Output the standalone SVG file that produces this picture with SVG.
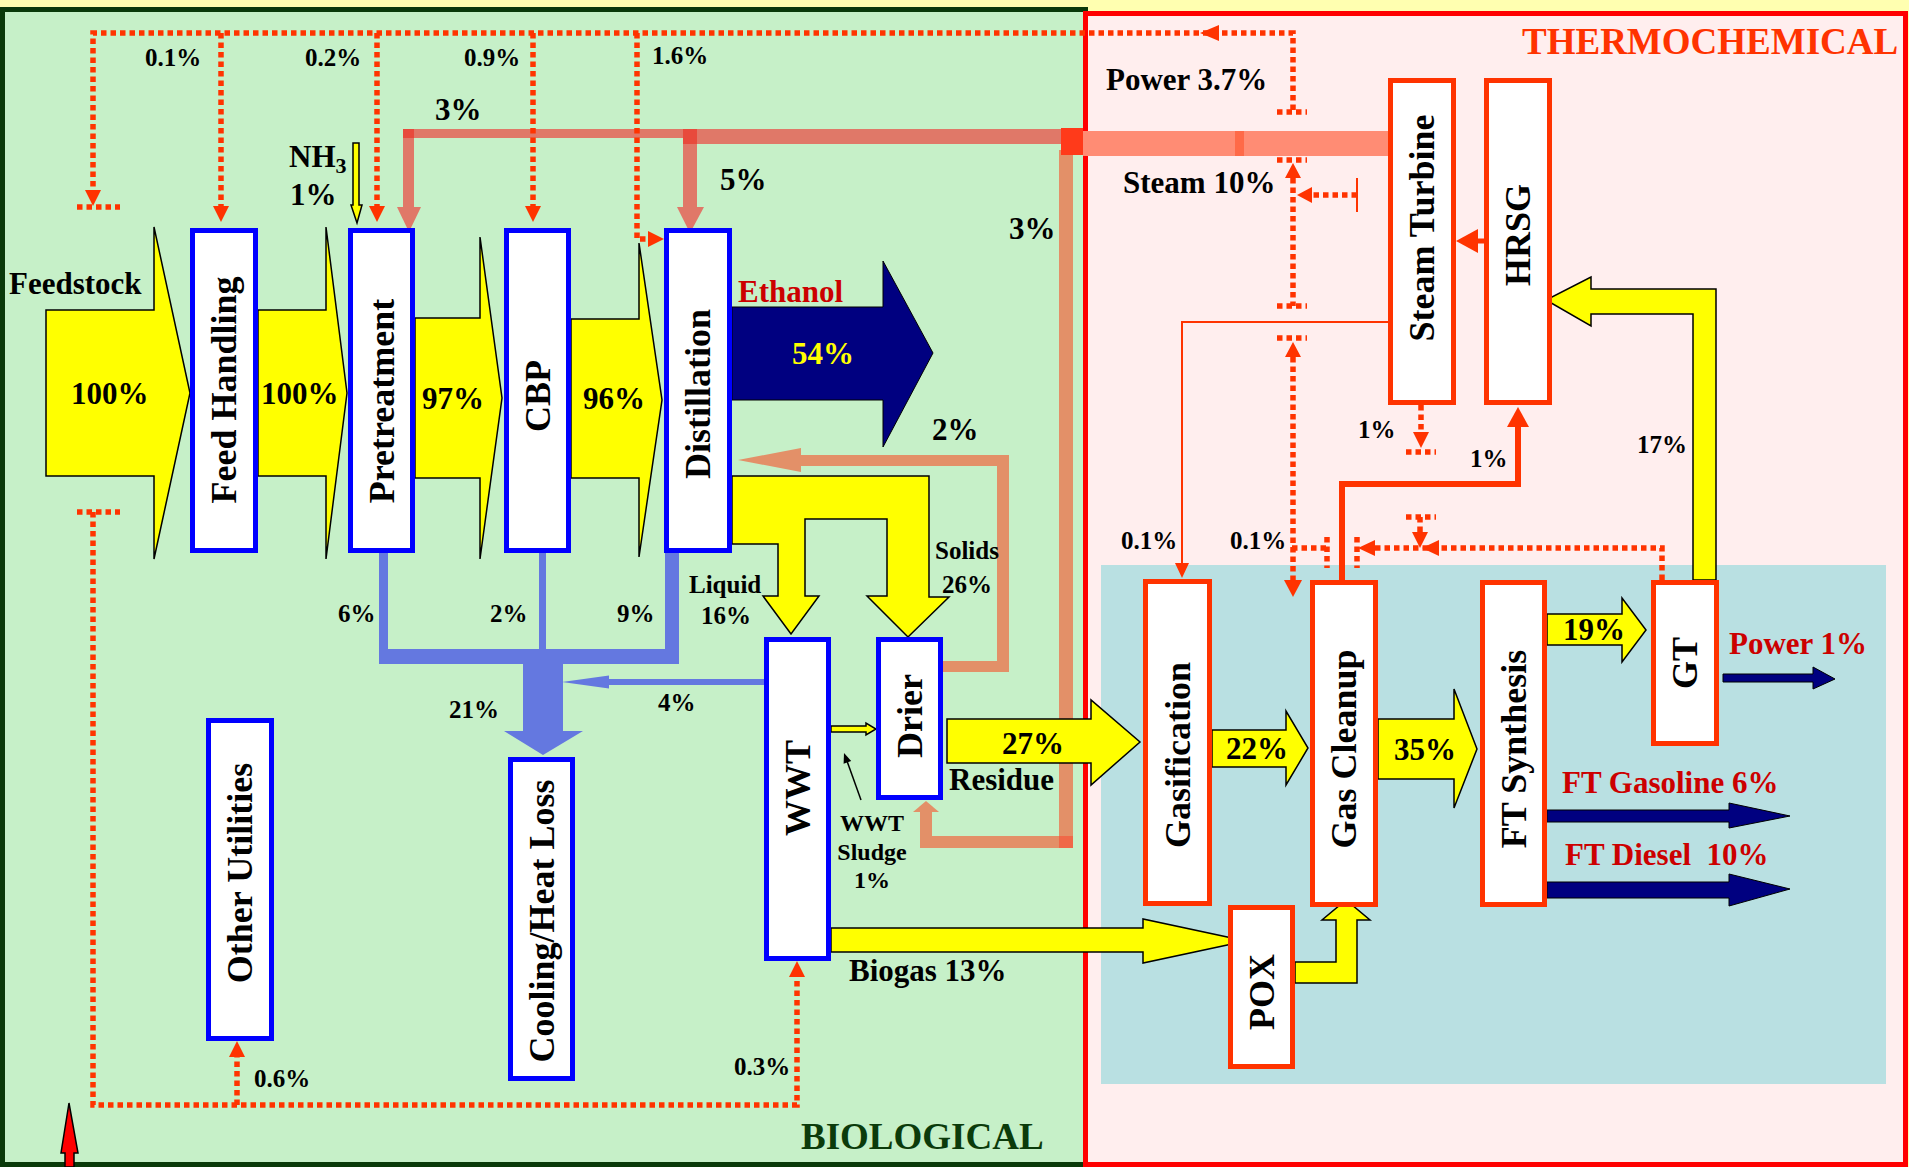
<svg xmlns="http://www.w3.org/2000/svg" width="1909" height="1167" viewBox="0 0 1909 1167">
<style>
text{font-family:"Liberation Serif","Times New Roman",serif;font-weight:bold;fill:#000}
.big{font-size:31px}
.sm{font-size:25px}
.nd{font-size:36px;text-anchor:middle}
.red{fill:#CC0000}
.bb{fill:#fff;stroke:#0000FF;stroke-width:5}
.bt{fill:#fff;stroke:#FF3300;stroke-width:5}
.ya{fill:#FFFF00;stroke:#000;stroke-width:1.5;stroke-linejoin:miter}
.na{fill:#000080;stroke:#000;stroke-width:1}
.dot{fill:none;stroke:#FF3300;stroke-width:5.5;stroke-dasharray:5.5 4}
.dh{fill:#FF3300}
.sal{fill:#E07868}
.org{fill:#E39068}
.blu{fill:#6478E0}
.sol{fill:none;stroke:#FF3300}
</style>
<g id="background">
<rect x="0" y="0" width="1909" height="1167" fill="#FFFFB0"/>
<rect x="2.5" y="9.5" width="1083" height="1155" fill="#C6F0C8" stroke="#0A3A0A" stroke-width="5"/>
<rect x="1085.5" y="13.5" width="820" height="1151" fill="#FFEEEE" stroke="#FF0000" stroke-width="5"/>
<rect x="1101" y="565" width="785" height="519" fill="#B9E0E2"/>
<text x="1522" y="54" style="font-size:37px;fill:#FF3300">THERMOCHEMICAL</text>
<text x="801" y="1149" style="font-size:37px;fill:#0B3B0B">BIOLOGICAL</text>
</g>
<g id="connectors">
<rect class="sal" x="403" y="129" width="287" height="9"/>
<rect class="sal" x="403" y="129" width="11" height="78"/>
<polygon class="sal" points="397,207 421,207 409,232"/>
<rect x="403" y="129" width="11" height="9" fill="#E84A3C"/>
<rect class="sal" x="683" y="129" width="378" height="15"/>
<rect class="sal" x="683" y="129" width="14" height="78"/>
<polygon class="sal" points="677,207 704,207 690,233"/>
<rect x="683" y="129" width="14" height="15" fill="#E84A3C"/>
<rect x="1083" y="131" width="305" height="25" fill="#FF8C74"/>
<rect x="1235" y="131" width="9" height="25" fill="#FF6A48"/>
<rect class="org" x="1059" y="150" width="14" height="698"/>
<rect class="org" x="920" y="836" width="153" height="12"/>
<rect class="org" x="920" y="812" width="12" height="36"/>
<polygon class="org" points="913,812 939,812 926,801"/>
<rect x="1059" y="836" width="14" height="12" fill="#F06848"/>
<rect x="1061" y="128" width="22" height="27" fill="#FF3A1A"/>
<rect class="org" x="997" y="455" width="12" height="217"/>
<rect class="org" x="943" y="661" width="66" height="11"/>
<rect class="org" x="801" y="455" width="208" height="11"/>
<polygon class="org" points="801,448 738,460 801,472"/>
<rect class="blu" x="379" y="553" width="9" height="111"/>
<rect class="blu" x="539" y="553" width="7" height="111"/>
<rect class="blu" x="665" y="553" width="14" height="111"/>
<rect class="blu" x="379" y="649" width="300" height="15"/>
<polygon class="blu" points="523,659 563,659 563,731 583,731 543,755 504,731 523,731"/>
<rect class="blu" x="609" y="679" width="155" height="6"/>
<polygon class="blu" points="609,675.5 562,682 609,688.5"/>
<polygon class="ya" points="46,310 154,310 154,227 190,393 154,559 154,476 46,476"/>
<polygon class="ya" points="258,310 326,310 326,227 347,393 326,559 326,476 258,476"/>
<polygon class="ya" points="415,318 480,318 480,237 502,398 480,559 480,478 415,478"/>
<polygon class="ya" points="571,319 639,319 639,243 662,400 639,557 639,478 571,478"/>
<polygon class="ya" points="732,476 929,476 929,597 949,597 908,637 867,596 887,596 887,519 805,519 805,596 819,596 791,634 763,596 778,596 778,544 732,544"/>
<polygon class="ya" points="947,719 1091,719 1091,700 1140,742 1091,785 1091,763 947,763"/>
<polygon class="ya" points="831,928 1143,928 1143,919 1246,941 1143,963 1143,952 831,952"/>
<polygon class="ya" points="1212,730 1286,730 1286,711 1308,748 1286,785 1286,767 1212,767"/>
<polygon class="ya" points="1378,719 1454,719 1454,689 1477,749 1454,808 1454,779 1378,779"/>
<polygon class="ya" points="1547,614 1622,614 1622,598 1646,630 1622,662 1622,645 1547,645"/>
<polygon class="ya" points="1295,962 1336,962 1336,920 1322,920 1346,900 1370,920 1357,920 1357,983 1295,983"/>
<polygon class="ya" points="1716,580 1716,289 1591,289 1591,277 1546,300 1591,326 1591,314 1693,314 1693,580"/>
<polygon class="ya" points="831,726 866,726 866,723 876,729 866,735 866,732 831,732"/>
<polygon class="ya" points="353,143 359,143 359,205 362,205 357,223 351,205 353,205"/>
<polygon class="na" points="732,307 883,307 883,261 933,353 883,447 883,400 732,400"/>
<polygon class="na" points="1723,674 1813,674 1813,667 1835,679 1813,689 1813,682 1723,682"/>
<polygon class="na" points="1547,810 1729,810 1729,803 1790,816 1729,828 1729,822 1547,822"/>
<polygon class="na" points="1547,882 1729,882 1729,874 1790,889 1729,906 1729,898 1547,898"/>
<path class="sol" stroke-width="6" d="M1342,580 V484 H1518 V427"/>
<polygon class="dh" points="1507,427 1529,427 1518,407"/>
<path class="sol" stroke-width="5" d="M1484,241 H1476"/>
<polygon class="dh" points="1478,229 1478,253 1456,241"/>
<path class="sol" stroke-width="2" d="M1388,322 H1182 V563"/>
<polygon class="dh" points="1175,563 1189,563 1182,578"/>
<path class="sol" stroke-width="2" d="M1357,178 V212"/>
<path class="dot" d="M1293,110 V33 H93 V190"/>
<polygon class="dh" points="85,190 101,190 93,206"/>
<polygon class="dh" points="1219,25 1219,41 1200,33"/>
<path class="dot" d="M77,207 H120 M77,512 H120 M1277,112 H1307 M1277,160 H1307 M1277,306 H1307 M1277,338 H1307 M1406,452 H1436 M1406,517 H1436"/>
<path class="dot" d="M221,33 V206 M377,33 V206 M533,33 V206 M637,33 V239 H648"/>
<polygon class="dh" points="213,206 229,206 221,222"/>
<polygon class="dh" points="369,206 385,206 377,222"/>
<polygon class="dh" points="525,206 541,206 533,222"/>
<polygon class="dh" points="648,231 648,247 664,239"/>
<path class="dot" d="M93,512 V1105 H797 V977 M237,1105 V1057"/>
<polygon class="dh" points="789,977 805,977 797,961"/>
<polygon class="dh" points="229,1057 245,1057 237,1041"/>
<path class="dot" d="M1293,178 V306 M1357,195 H1312"/>
<polygon class="dh" points="1285,178 1301,178 1293,163"/>
<polygon class="dh" points="1312,187 1312,203 1297,195"/>
<path class="dot" d="M1293,357 V580"/>
<polygon class="dh" points="1285,357 1301,357 1293,342"/>
<polygon class="dh" points="1284,580 1302,580 1293,597"/>
<path class="dot" d="M1421,405 V432"/>
<polygon class="dh" points="1413,432 1429,432 1421,448"/>
<path class="dot" d="M1662,580 V548 H1375 M1420,517 V532 M1292,548 H1327 M1327,537 V568 M1357,537 V568"/>
<polygon class="dh" points="1375,540 1375,556 1358,548"/>
<polygon class="dh" points="1439,540 1439,556 1422,548"/>
<polygon class="dh" points="1412,532 1428,532 1420,548"/>
<line x1="861" y1="800" x2="847" y2="761" stroke="#000" stroke-width="1.5"/>
<polygon points="844,753 851.2,761 843.6,763.8" fill="#000"/>
<polygon points="65,1167 65,1153 61,1153 69,1103 78,1153 74,1153 74,1167" fill="#FF0000" stroke="#000" stroke-width="1.5"/>
</g>
<g id="labels">
<text class="sm" x="145" y="66">0.1%</text>
<text class="sm" x="305" y="66">0.2%</text>
<text class="sm" x="464" y="66">0.9%</text>
<text class="sm" x="652" y="64">1.6%</text>
<text class="sm" x="338" y="622">6%</text>
<text class="sm" x="490" y="622">2%</text>
<text class="sm" x="617" y="622">9%</text>
<text class="sm" x="449" y="718">21%</text>
<text class="sm" x="658" y="711">4%</text>
<text class="sm" x="689" y="593">Liquid</text>
<text class="sm" x="701" y="624">16%</text>
<text class="sm" x="935" y="559">Solids</text>
<text class="sm" x="942" y="593">26%</text>
<text x="872" y="831" style="font-size:24px;text-anchor:middle">WWT</text>
<text x="872" y="860" style="font-size:24px;text-anchor:middle">Sludge</text>
<text x="872" y="888" style="font-size:24px;text-anchor:middle">1%</text>
<text class="sm" x="254" y="1087">0.6%</text>
<text class="sm" x="734" y="1075">0.3%</text>
<text class="sm" x="1121" y="549">0.1%</text>
<text class="sm" x="1230" y="549">0.1%</text>
<text class="sm" x="1358" y="438">1%</text>
<text class="sm" x="1470" y="467">1%</text>
<text class="sm" x="1637" y="453">17%</text>
<text class="big" x="9" y="294">Feedstock</text>
<text class="big" x="71" y="404">100%</text>
<text class="big" x="261" y="404">100%</text>
<text class="big" x="422" y="409">97%</text>
<text class="big" x="583" y="409">96%</text>
<text class="big" x="435" y="120">3%</text>
<text class="big" x="289" y="167">NH<tspan style="font-size:22px" dy="6">3</tspan></text>
<text class="big" x="290" y="205">1%</text>
<text class="big" x="720" y="190">5%</text>
<text class="big" x="1009" y="239">3%</text>
<text class="big" x="932" y="440">2%</text>
<text class="big red" x="738" y="302">Ethanol</text>
<text class="big" x="792" y="364" style="fill:#FFFF00">54%</text>
<text class="big" x="1002" y="754">27%</text>
<text class="big" x="949" y="790">Residue</text>
<text class="big" x="849" y="981">Biogas 13%</text>
<text class="big" x="1226" y="759">22%</text>
<text class="big" x="1394" y="760">35%</text>
<text class="big" x="1563" y="640">19%</text>
<text class="big" x="1106" y="90">Power 3.7%</text>
<text class="big" x="1123" y="193">Steam 10%</text>
<text class="big red" x="1729" y="654">Power 1%</text>
<text class="big red" x="1562" y="793">FT Gasoline 6%</text>
<text class="big red" x="1565" y="865" xml:space="preserve">FT Diesel  10%</text>
</g>
<g id="nodes">
<g id="feed-handling"><rect class="bb" x="192.5" y="230.5" width="63" height="320"/><text class="nd" transform="translate(236,390) rotate(-90)">Feed Handling</text></g>
<g id="pretreatment"><rect class="bb" x="350.5" y="230.5" width="62" height="320"/><text class="nd" transform="translate(394,401) rotate(-90)">Pretreatment</text></g>
<g id="cbp"><rect class="bb" x="506.5" y="230.5" width="62" height="320"/><text class="nd" transform="translate(550,396) rotate(-90)">CBP</text></g>
<g id="distillation"><rect class="bb" x="666.5" y="230.5" width="63" height="320"/><text class="nd" transform="translate(710,394) rotate(-90)">Distillation</text></g>
<g id="other-utilities"><rect class="bb" x="208.5" y="720.5" width="63" height="318"/><text class="nd" transform="translate(252,873) rotate(-90)">Other Utilities</text></g>
<g id="cooling"><rect class="bb" x="510.5" y="759.5" width="62" height="319"/><text class="nd" transform="translate(554,921) rotate(-90)">Cooling/Heat Loss</text></g>
<g id="wwt"><rect class="bb" x="766.5" y="639.5" width="62" height="319"/><text class="nd" transform="translate(810,788) rotate(-90)">WWT</text></g>
<g id="drier"><rect class="bb" x="878.5" y="639.5" width="62" height="158"/><text class="nd" transform="translate(922,716) rotate(-90)">Drier</text></g>
<g id="gasification"><rect class="bt" x="1145.5" y="581.5" width="64" height="322"/><text class="nd" transform="translate(1190,755) rotate(-90)">Gasification</text></g>
<g id="gas-cleanup"><rect class="bt" x="1312.5" y="582.5" width="63" height="322"/><text class="nd" transform="translate(1356,749) rotate(-90)">Gas Cleanup</text></g>
<g id="ft-synthesis"><rect class="bt" x="1482.5" y="582.5" width="62" height="322"/><text class="nd" transform="translate(1526,749) rotate(-90)">FT Synthesis</text></g>
<g id="gt"><rect class="bt" x="1653.5" y="582.5" width="63" height="161"/><text class="nd" transform="translate(1697,663) rotate(-90)">GT</text></g>
<g id="pox"><rect class="bt" x="1230.5" y="907.5" width="62" height="159"/><text class="nd" transform="translate(1274,992) rotate(-90)">POX</text></g>
<g id="steam-turbine"><rect class="bt" x="1390.5" y="80.5" width="63" height="322"/><text class="nd" transform="translate(1434,228) rotate(-90)">Steam Turbine</text></g>
<g id="hrsg"><rect class="bt" x="1486.5" y="80.5" width="63" height="322"/><text class="nd" transform="translate(1530,235) rotate(-90)">HRSG</text></g>
</g>
</svg>
